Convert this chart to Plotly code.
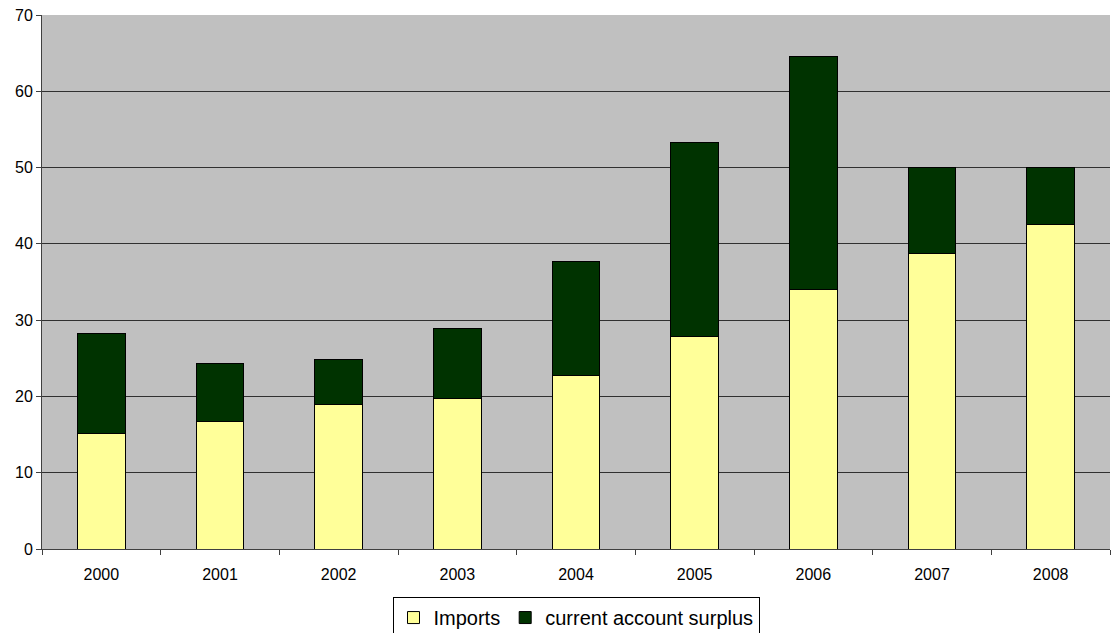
import plotly.graph_objects as go

years = ["2000", "2001", "2002", "2003", "2004", "2005", "2006", "2007", "2008"]
imports = [15.1, 16.7, 19.0, 19.7, 22.7, 27.8, 34.0, 38.8, 42.6]
surplus = [13.1, 7.6, 5.9, 9.2, 15.0, 25.5, 30.5, 11.2, 7.4]

fig = go.Figure()
fig.add_trace(go.Bar(x=years, y=imports, name="Imports",
                     marker=dict(color="#FFFF99", line=dict(color="#000000", width=1))))
fig.add_trace(go.Bar(x=years, y=surplus, name="current account surplus",
                     marker=dict(color="#003300", line=dict(color="#000000", width=1))))

fig.update_layout(
    barmode="stack",
    bargap=0.6,
    width=1111, height=633,
    margin=dict(l=42, r=1, t=15, b=84, autoexpand=False),
    paper_bgcolor="white",
    plot_bgcolor="#C0C0C0",
    font=dict(family="Liberation Sans, Arial, sans-serif", size=16, color="#000000"),
    legend=dict(orientation="h", x=0.5, xanchor="center", y=-0.09, yanchor="top",
                bgcolor="white", bordercolor="#000000", borderwidth=1,
                font=dict(size=20), traceorder="normal",
                itemwidth=30, tracegroupgap=0),
)
fig.update_xaxes(showgrid=False, showline=True, linecolor="#404040", linewidth=1,
                 ticks="outside", tickson="boundaries", ticklen=5, tickcolor="#404040",
                 tickfont=dict(size=16), ticklabelstandoff=11)
fig.update_yaxes(range=[0, 70], dtick=10, showgrid=True, gridcolor="#303030", gridwidth=1,
                 showline=True, linecolor="#404040", linewidth=1,
                 ticks="outside", ticklen=5, tickcolor="#404040",
                 tickfont=dict(size=16), zeroline=False, mirror=False)

fig.write_html("out.html")
